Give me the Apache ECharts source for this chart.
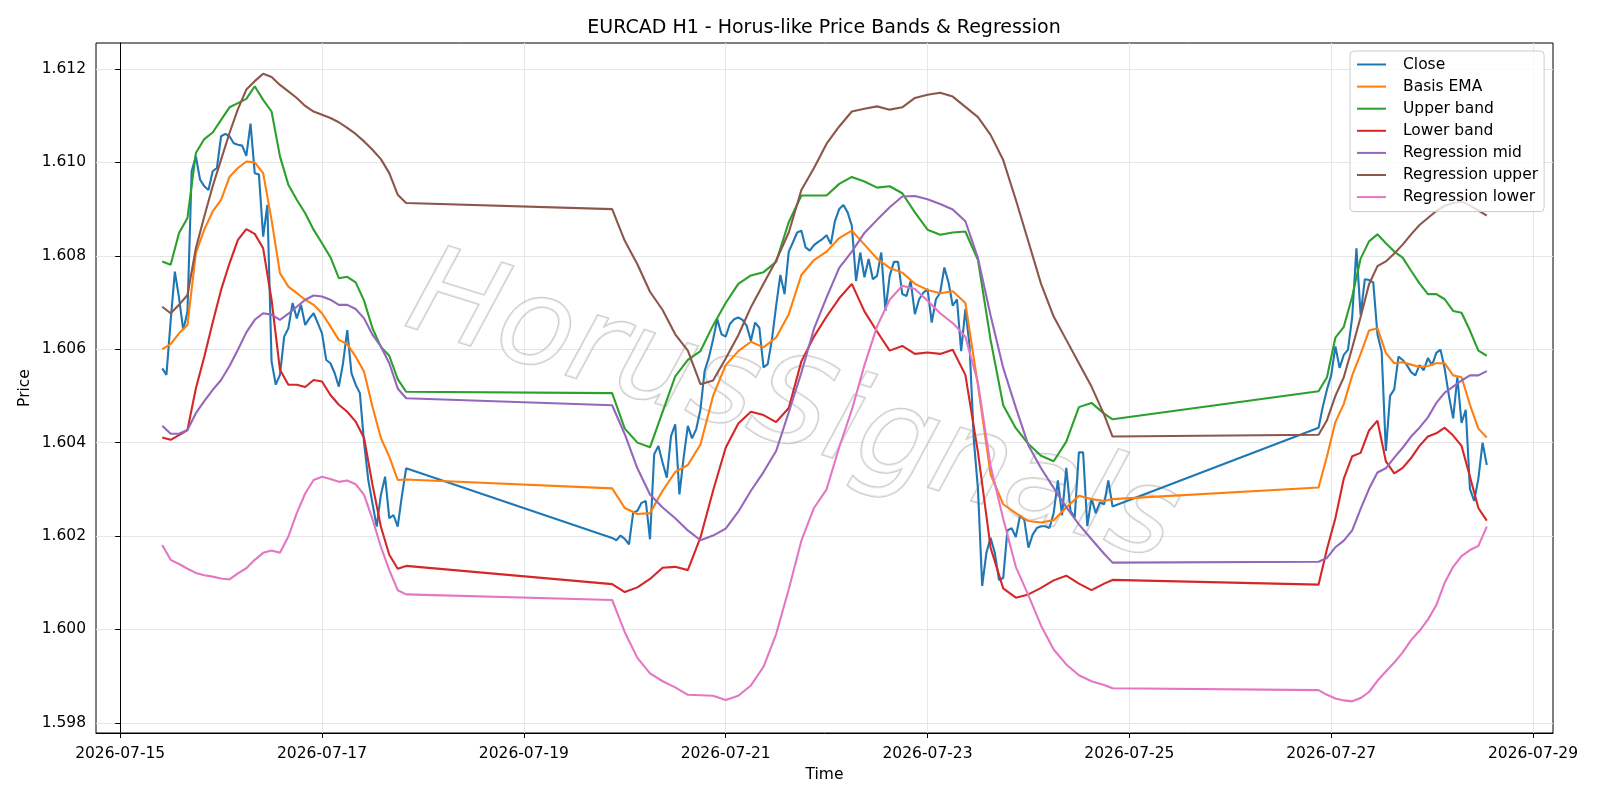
<!DOCTYPE html>
<html>
<head>
<meta charset="utf-8">
<title>EURCAD H1 - Horus-like Price Bands & Regression</title>
<script src="https://cdn.jsdelivr.net/npm/echarts@6/dist/echarts.min.js"></script>
<style>
  html, body { margin: 0; padding: 0; background: #ffffff; }
  #chart { width: 1600px; height: 800px; }
</style>
</head>
<body>
<div id="chart"></div>
<script>
/* ---------- data (hours counted from 2026-07-15 00:00) ---------- */
var baseDate = Date.UTC(2026, 6, 15);

// axis ticks: days from 2026-07-15, and prices
var dayTicks = [0, 2, 4, 6, 8, 10, 12, 14];
var priceTicks = [1.598, 1.600, 1.602, 1.604, 1.606, 1.608, 1.610, 1.612];

// hourly closes, one array per trading block
var closeStarts = [10, 117, 285];
var closeSeg1 = [
  1.60559, 1.60545, 1.6066, 1.60766, 1.6071, 1.60641, 1.6068, 1.60981, 1.61013, 1.60963,
  1.60949, 1.60941, 1.60981, 1.60988, 1.61056, 1.61061, 1.61056, 1.61041, 1.61038, 1.61036,
  1.61014, 1.61083, 1.60977, 1.60974, 1.60841, 1.60909, 1.60574, 1.60524, 1.60545, 1.60627,
  1.60645, 1.60699, 1.60666, 1.60695, 1.60652, 1.60666, 1.60677, 1.60656, 1.60634, 1.60577,
  1.6057, 1.60549, 1.6052, 1.6057, 1.60641, 1.60549, 1.60524, 1.60506, 1.604, 1.6032,
  1.6027, 1.6022, 1.60288, 1.60327, 1.60238, 1.60245, 1.6022, 1.60286, 1.60345
];
var closeSeg2 = [
  1.60196, 1.60191, 1.60201, 1.60194, 1.60182, 1.6025, 1.60254, 1.60271, 1.60275, 1.60193,
  1.60375, 1.60393, 1.60357, 1.60325, 1.60414, 1.60439, 1.60289, 1.60368, 1.60436, 1.60409,
  1.60429, 1.60471, 1.60554, 1.60582, 1.60621, 1.60664, 1.60632, 1.60627, 1.60654, 1.60664,
  1.60668, 1.60663, 1.6065, 1.60618, 1.60657, 1.60646, 1.60561, 1.60568, 1.60621, 1.60693,
  1.60759, 1.60718, 1.60809, 1.60829, 1.6085, 1.60854, 1.60818, 1.60811, 1.60823, 1.6083,
  1.60836, 1.60844, 1.60825, 1.60875, 1.609, 1.60909, 1.60893, 1.60864, 1.60746, 1.60807,
  1.60754, 1.60793, 1.6075, 1.60757, 1.60807, 1.60682, 1.60757, 1.60787, 1.60787, 1.60718,
  1.60714, 1.60746, 1.60675, 1.60707, 1.60721, 1.60729, 1.60657, 1.60707, 1.60721, 1.60775,
  1.60743, 1.60693, 1.60707, 1.60596, 1.60686, 1.60607, 1.60407, 1.603, 1.60093, 1.60164,
  1.60196, 1.60164, 1.60106, 1.6011, 1.60212, 1.60217, 1.60198, 1.60244, 1.60235, 1.60175,
  1.60203, 1.60217, 1.60221, 1.60221, 1.60217, 1.60249, 1.60319, 1.60244, 1.60346, 1.60254,
  1.6024, 1.60379, 1.60379, 1.60221, 1.60281, 1.60249, 1.60272, 1.60268, 1.60319, 1.60263
];
var closeSeg3 = [
  1.60432, 1.60477, 1.60514, 1.60544, 1.60606, 1.6056, 1.60588, 1.60599, 1.60669, 1.60816,
  1.60673, 1.6075, 1.60748, 1.60743, 1.60632, 1.60595, 1.60382, 1.605, 1.60514, 1.60584,
  1.60577, 1.60566, 1.60551, 1.60544, 1.60566, 1.60555, 1.60581, 1.60566, 1.60592, 1.60599,
  1.60558, 1.605, 1.60452, 1.6054, 1.60442, 1.6047, 1.60301, 1.60275, 1.60323, 1.604,
  1.60352
];

// band / regression lines, read at these hours
var bandHours = [
  10, 12, 14, 16, 18, 20, 22, 24, 26, 28, 30, 32, 34, 36, 38, 40, 42, 44, 46, 48,
  50, 52, 54, 56, 58, 60, 62, 64, 66, 68,
  117, 120, 123, 126, 129, 132, 135, 138, 141, 144, 147, 150, 153, 156, 159, 162, 165, 168, 171, 174,
  177, 180, 183, 186, 189, 192, 195, 198, 201, 204, 207, 210, 213, 216, 219, 222, 225, 228, 231, 234, 236,
  285, 287, 289, 291, 293, 295, 297, 299, 301, 303, 305, 307, 309, 311, 313, 315, 317, 319, 321, 323, 325
];
var basisEma = [
  1.606, 1.60611, 1.60634, 1.60652, 1.60806, 1.60856, 1.60895, 1.6092, 1.60969, 1.60988,
  1.61002, 1.610, 1.60977, 1.60877, 1.60763, 1.60734, 1.6072, 1.60706, 1.60695, 1.60677,
  1.60649, 1.6062, 1.60611, 1.60584, 1.60552, 1.60477, 1.6041, 1.6037, 1.6032, 1.60321,
  1.60302, 1.6026, 1.60247, 1.60249, 1.60297, 1.60337, 1.60352, 1.60396, 1.605, 1.60566,
  1.60596, 1.60616, 1.60604, 1.60625, 1.60675, 1.60759, 1.60791, 1.60809, 1.60838, 1.60854,
  1.60824, 1.60794, 1.60774, 1.60764, 1.6074, 1.60727, 1.6072, 1.60724, 1.60699, 1.60522,
  1.60332, 1.60268, 1.60249, 1.60232, 1.60229, 1.60234, 1.60261, 1.60286, 1.60279, 1.60275, 1.60279,
  1.60304, 1.60371, 1.60444, 1.60483, 1.60544, 1.6059, 1.6064, 1.60645, 1.60592, 1.6057,
  1.60572, 1.60567, 1.60562, 1.60564, 1.6057, 1.6057, 1.60544, 1.6054, 1.60481, 1.6043, 1.60411
];
var upperBand = [
  1.60788, 1.60781, 1.60849, 1.60881, 1.6102, 1.6105, 1.61064, 1.61091, 1.61118, 1.61127,
  1.61136, 1.61163, 1.61134, 1.61109, 1.61013, 1.60952, 1.6092, 1.60891, 1.60856, 1.60827,
  1.60797, 1.60752, 1.60755, 1.60743, 1.60704, 1.60645, 1.60605, 1.60586, 1.60536, 1.60509,
  1.60506, 1.6043, 1.604, 1.6039, 1.60466, 1.60542, 1.60577, 1.60596, 1.60651, 1.60699,
  1.6074, 1.60758, 1.60765, 1.60787, 1.60872, 1.60929, 1.60929, 1.60929, 1.60954, 1.60969,
  1.60959, 1.60946, 1.60949, 1.60934, 1.60893, 1.60856, 1.60845, 1.6085, 1.60852, 1.60791,
  1.6062, 1.6048, 1.60431, 1.60397, 1.60372, 1.6036, 1.60402, 1.60476, 1.60485, 1.60462, 1.6045,
  1.6051, 1.6054, 1.60625, 1.60648, 1.60713, 1.60794, 1.60831, 1.60846, 1.60827, 1.60809,
  1.60796, 1.60768, 1.60741, 1.60718, 1.60718, 1.60707, 1.60682, 1.60678, 1.6064, 1.60597, 1.60586
];
var lowerBand = [
  1.60411, 1.60406, 1.60416, 1.60427, 1.60516, 1.60584, 1.60657, 1.60727, 1.60784, 1.60834,
  1.60857, 1.60847, 1.60816, 1.60706, 1.60556, 1.60524, 1.60524, 1.60519, 1.60534, 1.60531,
  1.60502, 1.60481, 1.60466, 1.60445, 1.6041, 1.6031, 1.6022, 1.6016, 1.6013, 1.60136,
  1.60097, 1.6008, 1.6009, 1.60108, 1.60132, 1.60134, 1.60127, 1.60197, 1.60297, 1.60389,
  1.60441, 1.60466, 1.60459, 1.60444, 1.60474, 1.60574, 1.60627, 1.6067, 1.60709, 1.6074,
  1.60681, 1.60638, 1.60597, 1.60607, 1.6059, 1.60593, 1.6059, 1.60599, 1.60545, 1.60379,
  1.60175, 1.60088, 1.60068, 1.60075, 1.60089, 1.60105, 1.60115, 1.60098, 1.60084, 1.60098, 1.60106,
  1.60096, 1.60172, 1.60238, 1.60323, 1.60371, 1.60378, 1.60426, 1.60447, 1.6036, 1.60334,
  1.60346, 1.60367, 1.60393, 1.60413, 1.6042, 1.60432, 1.60415, 1.60393, 1.60327, 1.6026, 1.60233
];
var regMid = [
  1.60436, 1.60419, 1.60419, 1.60427, 1.60463, 1.60489, 1.60513, 1.60534, 1.60564, 1.60599,
  1.60636, 1.60663, 1.60677, 1.60674, 1.60663, 1.60676, 1.60691, 1.60706, 1.60715, 1.60713,
  1.60706, 1.60695, 1.60695, 1.60686, 1.60666, 1.60631, 1.60606, 1.6057, 1.60516, 1.60495,
  1.6048, 1.60418, 1.60345, 1.60289, 1.60261, 1.60238, 1.60212, 1.60191, 1.60201, 1.60216,
  1.60252, 1.60297, 1.60337, 1.60382, 1.60465, 1.6055, 1.60644, 1.60711, 1.60774, 1.60809,
  1.60849, 1.60877, 1.60904, 1.60927, 1.60928, 1.60921, 1.60911, 1.60899, 1.60874, 1.60795,
  1.60672, 1.6056, 1.60475, 1.60394, 1.60345, 1.60303, 1.60262, 1.60225, 1.60193, 1.60162, 1.60143,
  1.60145, 1.60153, 1.60176, 1.6019, 1.60212, 1.60258, 1.60301, 1.60336, 1.60345, 1.60368,
  1.60389, 1.60413, 1.60432, 1.60454, 1.60485, 1.60507, 1.6052, 1.60533, 1.60544, 1.60544, 1.60553
];
var regUpper = [
  1.60691, 1.60677, 1.60695, 1.60716, 1.60816, 1.60884, 1.60949, 1.61006, 1.61063, 1.61114,
  1.61156, 1.61174, 1.6119, 1.61183, 1.61166, 1.61152, 1.61138, 1.61121, 1.61109, 1.61102,
  1.61095, 1.61086, 1.61074, 1.61061, 1.61045, 1.61027, 1.61007, 1.60977, 1.60931, 1.60913,
  1.609, 1.60832, 1.60782, 1.60723, 1.60684, 1.60632, 1.60597, 1.60525, 1.60533, 1.6058,
  1.6063, 1.6069, 1.6074, 1.6079, 1.6085, 1.60941, 1.60988, 1.6104, 1.61077, 1.61109,
  1.61115, 1.6112, 1.61113, 1.61118, 1.61138, 1.61145, 1.61149, 1.61141, 1.61119, 1.61097,
  1.61059, 1.61005, 1.6092, 1.6083, 1.6074, 1.6067, 1.6062, 1.6057, 1.6052, 1.6046, 1.60413,
  1.60417, 1.60448, 1.605, 1.6054, 1.60603, 1.60669, 1.60739, 1.60778, 1.60788, 1.60805,
  1.60824, 1.60846, 1.60866, 1.60881, 1.60896, 1.60907, 1.60913, 1.60916, 1.60908, 1.60897, 1.60886
];
var regLower = [
  1.60181, 1.60149, 1.6014, 1.6013, 1.60121, 1.60116, 1.60113, 1.60109, 1.60107, 1.6012,
  1.60131, 1.60149, 1.60164, 1.60169, 1.60164, 1.60199, 1.60249, 1.60291, 1.6032, 1.60327,
  1.60322, 1.60316, 1.60319, 1.60311, 1.60288, 1.60236, 1.60177, 1.60127, 1.60084, 1.60075,
  1.60063, 1.59994, 1.59939, 1.59906, 1.59889, 1.59876, 1.5986, 1.59859, 1.59858, 1.59849,
  1.59858, 1.5988, 1.5992, 1.5999, 1.60086, 1.6019, 1.6026, 1.603, 1.6039, 1.6047,
  1.60566, 1.60649, 1.60706, 1.60736, 1.60729, 1.60704, 1.60677, 1.60656, 1.60627, 1.60528,
  1.6035, 1.60237, 1.60134, 1.60073, 1.60008, 1.59957, 1.59925, 1.59902, 1.59889, 1.59881, 1.59874,
  1.5987, 1.5986, 1.59852, 1.59848, 1.59846, 1.59853, 1.59866, 1.5989, 1.5991, 1.59929,
  1.59951, 1.59977, 1.59997, 1.60021, 1.60052, 1.601, 1.60134, 1.60157, 1.6017, 1.60179, 1.6022
];

var seriesNames = ['Close', 'Basis EMA', 'Upper band', 'Lower band',
                   'Regression mid', 'Regression upper', 'Regression lower'];
var seriesColors = ['#1f77b4', '#ff7f0e', '#2ca02c', '#d62728', '#9467bd', '#8c564b', '#e377c2'];

/* ---------- build [day, value] pairs ---------- */
function closeData() {
  var out = [];
  [closeSeg1, closeSeg2, closeSeg3].forEach(function (seg, k) {
    seg.forEach(function (v, i) { out.push([(closeStarts[k] + i) / 24, v]); });
  });
  return out;
}
function bandData(vals) {
  return bandHours.map(function (h, i) { return [h / 24, vals[i]]; });
}

var lines = [closeData(), bandData(basisEma), bandData(upperBand), bandData(lowerBand),
             bandData(regMid), bandData(regUpper), bandData(regLower)];

var font = 'DejaVu Sans';
var fs = 15.5;

var chart = echarts.init(document.getElementById('chart'), null, { renderer: 'canvas' });

var option = {
  animation: false,
  backgroundColor: '#ffffff',
  title: {
    text: 'EURCAD H1 - Horus-like Price Bands & Regression',
    left: 824,
    top: 19,
    padding: 0,
    textAlign: 'center',
    textStyle: { fontFamily: font, fontSize: 19, fontWeight: 'normal', color: '#000' }
  },
  grid: {
    left: 96, right: 47, top: 43, bottom: 67,
    show: true, borderColor: '#000', borderWidth: 1, backgroundColor: 'transparent'
  },
  legend: {
    data: seriesNames,
    orient: 'vertical',
    left: 1350,
    top: 51,
    padding: [5.5, 6, 6.5, 6],
    itemWidth: 29,
    itemHeight: 16,
    itemGap: 6.1,
    itemStyle: { opacity: 0 },
    backgroundColor: 'rgba(255,255,255,0.8)',
    borderColor: '#cccccc',
    borderWidth: 1,
    borderRadius: 4,
    textStyle: { fontFamily: font, fontSize: fs, lineHeight: 16, color: '#000', padding: [0, 0, 0, 12] }
  },
  xAxis: {
    type: 'value',
    min: -0.2396,
    max: 14.1979,
    splitNumber: 7,
    name: 'Time',
    nameLocation: 'middle',
    nameGap: 31,
    nameTextStyle: { fontFamily: font, fontSize: fs, color: '#000' },
    axisLine: { show: true, lineStyle: { color: '#000', width: 1 } },
    axisTick: { show: true, inside: false, length: 5, customValues: dayTicks, lineStyle: { color: '#000' } },
    axisLabel: {
      margin: 13,
      customValues: dayTicks,
      fontFamily: font, fontSize: fs, color: '#000',
      formatter: function (d) {
        if (Math.abs(d - Math.round(d)) > 1e-6) return '';
        return new Date(baseDate + Math.round(d) * 86400000).toISOString().slice(0, 10);
      }
    },
    splitLine: { show: true, lineStyle: { color: '#e6e6e6', width: 1 } }
  },
  yAxis: {
    type: 'value',
    min: 1.597782,
    max: 1.612557,
    splitNumber: 7,
    name: 'Price',
    nameLocation: 'middle',
    nameGap: 63,
    nameMoveOverlap: false,
    nameTextStyle: { fontFamily: font, fontSize: fs, color: '#000' },
    axisLine: { show: true, lineStyle: { color: '#000', width: 1 } },
    axisTick: { show: true, inside: false, length: 5, customValues: priceTicks, lineStyle: { color: '#000' } },
    axisLabel: {
      margin: 10,
      customValues: priceTicks,
      fontFamily: font, fontSize: fs, color: '#000',
      formatter: function (v) {
        if (Math.abs(v * 500 - Math.round(v * 500)) > 1e-6) return '';
        return v.toFixed(3);
      }
    },
    splitLine: { show: true, lineStyle: { color: '#e6e6e6', width: 1 } }
  },
  graphic: [{
    type: 'text',
    x: 792,
    y: 412,
    rotation: -0.3,
    z: 1,
    silent: true,
    style: {
      text: 'HorusSignals',
      fontFamily: font,
      fontSize: 122,
      fontStyle: 'italic',
      align: 'center',
      verticalAlign: 'middle',
      fill: 'rgba(255,255,255,0.55)',
      stroke: 'rgba(140,140,140,0.45)',
      lineWidth: 2
    }
  }],
  series: seriesNames.map(function (name, i) {
    return {
      name: name,
      type: 'line',
      data: lines[i],
      symbol: 'none',
      showSymbol: false,
      z: 3,
      lineStyle: { color: seriesColors[i], width: 2.1 },
      itemStyle: { color: seriesColors[i] }
    };
  })
};

chart.setOption(option);
</script>
</body>
</html>
